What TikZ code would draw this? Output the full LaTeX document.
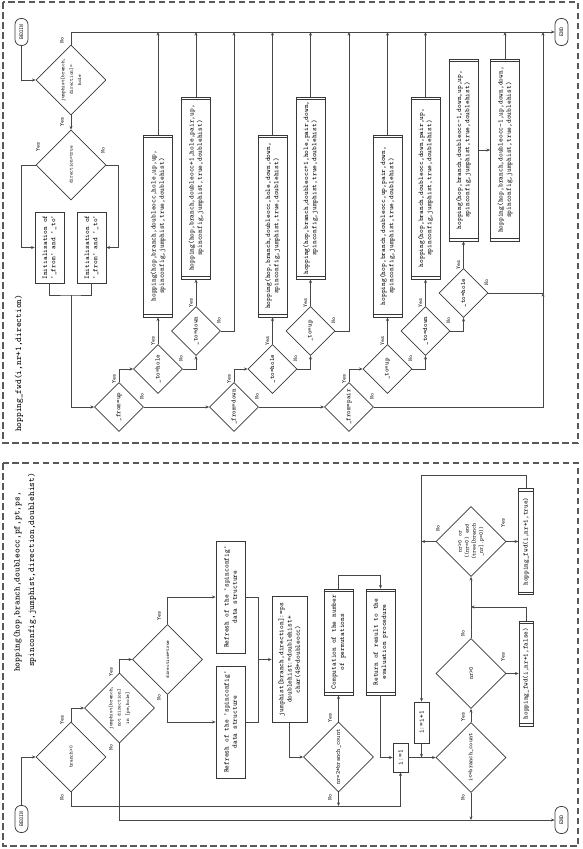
\documentclass[tikz,border=0pt]{standalone}
\usepackage{fontspec}
\usetikzlibrary{shapes.geometric,arrows.meta,calc}
\newcommand\subrl[1]{%
 \draw[draw=black!78,line width=0.6pt] ($(#1.north west)!3pt!(#1.north east)$) -- ($(#1.south west)!3pt!(#1.south east)$);
 \draw[draw=black!78,line width=0.6pt] ($(#1.north east)!3pt!(#1.north west)$) -- ($(#1.south east)!3pt!(#1.south west)$);}
\tikzset{
  ln/.style={draw=black!72, line width=0.6pt},
  arr/.style={ln, -{Stealth[length=3.6pt,width=3pt]}},
  bx/.style={draw=black!78, line width=0.75pt, rectangle, rotate=90, inner sep=0pt, align=center, font=\ttfamily\fontsize{7.1}{8.3}\selectfont},
  sub/.style={bx, minimum width=182pt, minimum height=29pt},
  dm/.style={draw=black!78, line width=0.75pt, diamond, rotate=90, inner sep=0pt, align=center, minimum width=49pt, minimum height=49pt, font=\ttfamily\fontsize{6.7}{8}\selectfont},
  bigdm/.style={dm, minimum width=70pt, minimum height=70pt, font=\ttfamily\fontsize{5.1}{8.3}\selectfont},
  middm/.style={dm, minimum width=70pt, minimum height=70pt, font=\ttfamily\fontsize{6.1}{7.2}\selectfont},
  term/.style={draw=black!78, line width=0.75pt, rectangle, rounded corners=6pt, rotate=90, minimum width=27pt, minimum height=13pt, inner sep=0pt, font=\ttfamily\fontsize{5.7}{6}\selectfont},
  lab/.style={rotate=90, inner sep=0pt, font=\ttfamily\fontsize{5.7}{6}\selectfont},
  ttl/.style={rotate=90, inner sep=0pt, anchor=west, font=\ttfamily\fontsize{9}{12}\selectfont},
  frame/.style={draw=black!65, line width=1.1pt, dash pattern=on 6.5pt off 3.5pt},
}
\begin{document}
\begin{tikzpicture}[x=1pt,y=-1pt]
\useasboundingbox (0,0) rectangle (582,849);
\draw[frame] (3,2) rectangle (578,443);
\draw[frame] (3,463) rectangle (578,846);

% ================= top panel: hopping_fwd =================
\node[ttl] (ttl1) at (19,432) {hopping\_fwd(i,nr+1,direction)};
\node[term] (bg1) at (21.5,32) {BEGIN};
\node[term] (end1) at (561.5,32) {END};
\node[bigdm] (d1) at (71,80) {jumphist[branch,\\direction]=\\hole};
\node[bigdm] (d2) at (71,165) {direction=true};
\node[bx, minimum width=71pt, minimum height=29pt] (in1) at (49.5,247.5) {Initialisation of\\'\_from' and '\_to'};
\node[bx, minimum width=71pt, minimum height=29pt] (in2) at (91.5,247.5) {Initialisation of\\'\_from' and '\_to'};
\node[dm] (f1) at (119,407) {\_from=up};
\node[dm] (t1) at (158,369) {\_to=hole};
\node[dm] (t2) at (196,331) {\_to=down};
\node[dm] (f2) at (234,407) {\_from=down};
\node[dm] (t3) at (272.5,369) {\_to=hole};
\node[dm] (t4) at (310.5,331) {\_to=up};
\node[dm] (f3) at (349,407) {\_from=pair};
\node[dm] (t5) at (387.5,369) {\_to=up};
\node[dm] (t6) at (425.5,331) {\_to=down};
\node[dm] (t7) at (463.5,293) {\_to=hole};
\node[sub] (B1) at (158,226) {hopping(hop,branch,doubleocc,hole,up,up,\\spinconfig,jumphist,true,doublehist)};
\node[sub] (B2) at (196,188) {hopping(hop,branch,doubleocc+1,hole,pair,up,\\spinconfig,jumphist,true,doublehist)};
\node[sub] (B3) at (272.5,226) {hopping(hop,branch,doubleocc,hole,down,down,\\spinconfig,jumphist,true,doublehist)};
\node[sub] (B4) at (310.5,188) {hopping(hop,branch,doubleocc+1,hole,pair,down,\\spinconfig,jumphist,true,doublehist)};
\node[sub] (B5) at (387.5,226) {hopping(hop,branch,doubleocc,up,pair,down,\\spinconfig,jumphist,true,doublehist)};
\node[sub] (B6) at (425.5,188) {hopping(hop,branch,doubleocc,down,pair,up,\\spinconfig,jumphist,true,doublehist)};
\node[sub] (B7) at (463.5,150) {hopping(hop,branch,doubleocc-1,down,up,up,\\spinconfig,jumphist,true,doublehist)};
\node[sub] (B8) at (505,150) {hopping(hop,branch,doubleocc-1,up,down,down,\\spinconfig,jumphist,true,doublehist)};
\foreach \b in {B1,B2,B3,B4,B5,B6,B7,B8} {\subrl{\b}}
\coordinate (t2x) at (234,32);
\coordinate (t4x) at (349,32);
\coordinate (jn) at (543,293);
\coordinate (j1) at (71,295);

\draw[arr] (bg1) |- (d1);
\draw[arr] (d1) |- (end1);
\draw[arr] (d1) -- (d2);
\draw[arr] (d2.north) -- ++(-14.5,0) |- (in1.north);
\draw[arr] (d2.south) -- ++(12,0) |- (in2.south);
\draw[ln] (in1.west) |- (j1) -| (in2.west);
\draw[arr] (j1) |- (f1);
\draw[arr] (f1) |- (t1);
\draw[arr] (t1) -- (B1);
\draw[arr] (t1) -| (t2);
\draw[arr] (t2) -- (B2);
\draw[arr] (t2) -| (t2x);
\draw[arr] (f1) -- (f2);
\draw[arr] (f2) |- (t3);
\draw[arr] (t3) -- (B3);
\draw[arr] (t3) -| (t4);
\draw[arr] (t4) -- (B4);
\draw[arr] (t4) -| (t4x);
\draw[arr] (f2) -- (f3);
\draw[arr] (f3) |- (t5);
\draw[arr] (t5) -- (B5);
\draw[arr] (t5) -| (t6);
\draw[arr] (t6) -- (B6);
\draw[arr] (t6) -| (t7);
\draw[arr] (t7) -- (B7);
\draw[arr] (B7) -- (B8);
\draw[arr] (f3) -| (jn);
\draw[arr] (t7) -- (jn) -- (jn |- end1);
\foreach \b in {B1,B2,B3,B4,B5,B6,B8} {\draw[arr] (\b) -- (\b |- end1);}

% labels top
\node[lab] (nd1) at (62,40) {No};
\node[lab] (yd1) at (62,122) {Yes};
\node[lab] (yd2) at (38,147) {Yes};
\node[lab] (nd2) at (103,150) {No};
\foreach \n/\x/\y in {f1/119/407,t1/158/369,t2/196/331,f2/234/407,t3/272.5/369,t4/310.5/331,f3/349/407,t5/387.5/369,t6/425.5/331,t7/463.5/293}{
  \node[lab] (y\n) at (\x-5,\y-28) {Yes};
  \node[lab] (n\n) at (\x+23,\y-11) {No};
}

% ================= bottom panel: hopping =================
\node[ttl] (ttl2a) at (17.5,672) {hopping(hop,branch,doubleocc,pf,pt,ps,};
\node[ttl] (ttl2b) at (32,667) {spinconfig,jumphist,direction,doublehist)};
\node[term] (bg2) at (21.5,819) {BEGIN};
\node[term] (end2) at (561.5,820) {END};
\node[bigdm] (e1) at (71,757) {branch>0};
\node[bigdm] (e2) at (119.5,708) {jumphist[branch,\\not direction]\\in [pe,hole]};
\node[bigdm] (e3) at (167.5,659.5) {direction=true};
\node[bx, minimum width=112pt, minimum height=29pt] (R1) at (230.5,597) {Refresh of the 'spinconfig'\\data structure};
\node[bx, minimum width=112pt, minimum height=29pt] (R2) at (230.5,722) {Refresh of the 'spinconfig'\\data structure};
\node[bx, minimum width=126pt, minimum height=35pt] (J) at (289.5,659.5) {jumphist[branch,direction]:=ps\\doublehist:=doublehist+\\char(48+doubleocc)};
\node[middm] (N) at (338.5,757) {nr=2*branch\_count};
\node[bx, minimum width=106pt, minimum height=29pt] (C) at (338.5,642) {Computation of the number\\of permutations};
\node[bx, minimum width=106pt, minimum height=29pt] (Ret) at (380.5,642) {Return of result to the\\evaluation procedure};
\node[bx, minimum width=29pt, minimum height=15pt] (I1) at (400.5,757.5) {i:=1};
\node[bx, minimum width=41pt, minimum height=15pt] (I2) at (421.5,722.5) {i:=i+1};
\node[middm] (L) at (471,757.5) {i<=branch\_count};
\node[middm] (D1) at (471,673.5) {nr>0};
\node[middm, font=\ttfamily\fontsize{5.8}{7.1}\selectfont] (D2) at (471,541.5) {nr>0 or\\((nr=0) and\\(tree[branch\\\_nr].p=0))};
\node[bx, minimum width=105pt, minimum height=14pt, font=\ttfamily\fontsize{6.9}{8}\selectfont] (F1) at (526,673.5) {hopping\_fwd(i,nr+1,false)};
\node[bx, minimum width=106pt, minimum height=15pt, font=\ttfamily\fontsize{6.9}{8}\selectfont] (F2) at (526,541.5) {hopping\_fwd(i,nr+1,true)};
\foreach \b in {C,Ret,F1,F2} {\subrl{\b}}
\coordinate (lowA) at (71,806);
\coordinate (lowB) at (119.5,820);
\coordinate (jR) at (258,659.5);
\coordinate (jD) at (471,607);

\draw[arr] (bg2) |- (e1);
\draw[arr] (e1) |- (e2);
\draw[arr] (e1) -- (lowA) -| (I1);
\draw[arr] (e2) -- (lowB) -- (end2);
\draw[arr] (e2) |- (e3);
\draw[arr] (e3) |- (R1);
\draw[arr] (e3) |- (R2);
\draw[ln] (R1) -| (jR);
\draw[ln] (R2) -| (jR);
\draw[arr] (jR) -- (J);
\draw[arr] (J) |- (N);
\draw[arr] (N) -- (C);
\draw[arr] (N) -- (N |- lowA);
\draw[arr] (C.east) -- ++(0,-13) -| (Ret.east);
\draw[arr] (Ret) |- (I1);
\draw[arr] (I1) -- (L);
\draw[arr] (I2) -- (I2 |- I1);
\draw[arr] (L) -- (D1);
\draw[arr] (L) -- (L |- lowB);
\draw[arr] (D1) -- (F1);
\draw[arr] (D1) -- (D2);
\draw[arr] (F1.east) |- (jD);
\draw[arr] (D2) -- (F2);
\draw[arr] (F2.east) -- ++(0,-13) -| (I2);
\draw[arr] (D2) -- (D2 -| I2);

% labels bottom
\node[lab] (ye1) at (62,720) {Yes};
\node[lab] (ne1) at (62,797) {No};
\node[lab] (ye2) at (111,672) {Yes};
\node[lab] (ne2) at (111,747) {No};
\node[lab] (ye3) at (159,616) {Yes};
\node[lab] (ne3) at (159,697) {No};
\node[lab] (yN) at (330,718) {Yes};
\node[lab] (nN) at (330,797) {No};
\node[lab] (yL) at (463,717) {Yes};
\node[lab] (nL) at (463,797) {No};
\node[lab] (nD1) at (463,633) {No};
\node[lab] (yD1) at (503,657) {Yes};
\node[lab] (nD2) at (438,528) {No};
\node[lab] (yD2) at (503,523) {Yes};
\end{tikzpicture}
\end{document}
